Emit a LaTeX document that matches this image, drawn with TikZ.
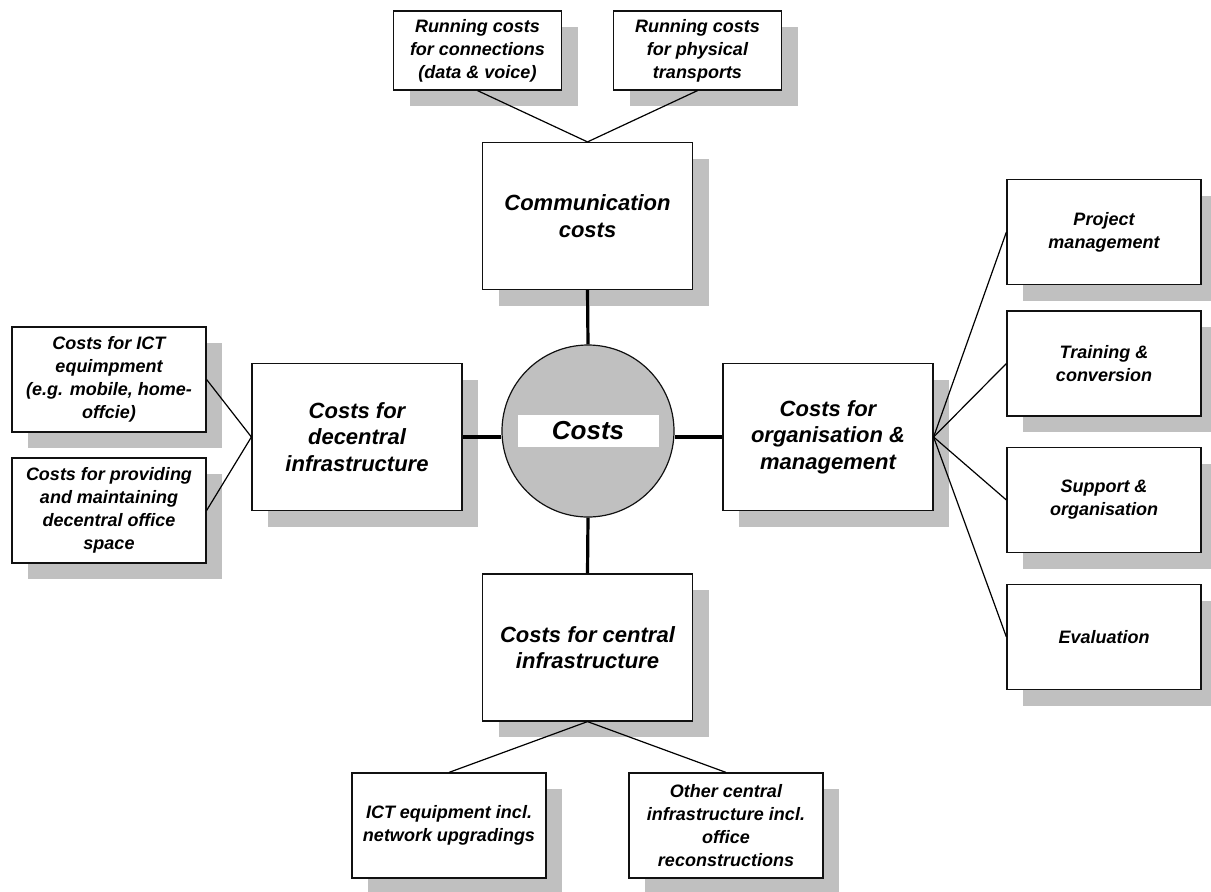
\documentclass[tikz,border=0pt]{standalone}
\usepackage{fontspec}
\setmainfont{Liberation Sans}
\usetikzlibrary{
  positioning,
  shadows,
}
\definecolor{border}{HTML}{111111}
\definecolor{shadowGray}{HTML}{C0C0C0}
\definecolor{hubFill}{HTML}{C0C0C0}
\tikzset{
  mainbox/.style={
    rectangle, draw=border, fill=white, line width=0.6pt,
    minimum width=105pt, minimum height=73.5pt, align=center, inner sep=2pt,
    font=\fontsize{11}{13.3}\selectfont\bfseries\itshape,
    drop shadow={shadow xshift=8pt, shadow yshift=-8pt, fill=shadowGray, opacity=1},
  },
  subbox/.style={
    mainbox, minimum width=97pt, minimum height=52.5pt,
    font=\fontsize{9}{11.5}\selectfont\bfseries\itshape,
  },
  topbox/.style={subbox, minimum width=84pt, minimum height=39.5pt},
  hub/.style={
    circle, draw=border, fill=hubFill, line width=0.6pt,
    minimum size=86pt, inner sep=0pt,
  },
  hublabel/.style={
    rectangle, fill=white, minimum width=70.5pt, minimum height=16pt,
    inner sep=0pt, font=\fontsize{13}{15}\selectfont\bfseries\itshape,
  },
  link/.style={line width=0.6pt, black},
  spoke/.style={line width=1.6pt, black},
}

\begin{document}
\begin{tikzpicture}[x=0.5pt, y=-0.5pt]
  \useasboundingbox (0,0) rectangle (1211,891);

  % Centre
  \node[hub] (hub) at (588, 431) {};
  \node[hublabel] (costs) at (hub.center) {Costs};

  % Main boxes
  \node[mainbox] (comm) at (587.5, 216) {Communication\\costs};
  \node[mainbox] (central) at (587.5, 647.5) {Costs for central\\infrastructure};
  \node[mainbox] (decentral) at (357, 437) {Costs for\\decentral\\infrastructure};
  \node[mainbox] (orga) at (828, 437) {Costs for\\organisation \&\\management};

  % Top row
  \node[topbox] (runconn) at (477.5, 50.5) {Running costs\\for connections\\(data \& voice)};
  \node[topbox] (runtrans) at (697.5, 50.5) {Running costs\\for physical\\transports};

  % Left column
  \node[subbox] (ictdev) at (109, 379.5) {Costs for ICT\\equimpment\\(e.g. mobile, home-\\offcie)};
  \node[subbox] (office) at (109, 510.5) {Costs for providing\\and maintaining\\decentral office\\space};

  % Right column
  \node[subbox] (project) at (1104, 232) {Project\\management};
  \node[subbox] (training) at (1104, 363.5) {Training \&\\conversion};
  \node[subbox] (support) at (1104, 500) {Support \&\\organisation};
  \node[subbox] (evaluation) at (1104, 637) {Evaluation};

  % Bottom row
  \node[subbox] (ictnet) at (449, 825.5) {ICT equipment incl.\\network upgradings};
  \node[subbox] (othercentral) at (726, 825.5) {Other central\\infrastructure incl.\\office\\reconstructions};

  % Spokes
  \draw[spoke] (comm.south) -- (hub.north);
  \draw[spoke] (hub.south) -- (central.north);
  \draw[spoke] (decentral.east) -- (decentral.east -| hub.west);
  \draw[spoke] (orga.west) -- (orga.west -| hub.east);

  % Links
  \draw[link] (runconn.south) -- (comm.north);
  \draw[link] (runtrans.south) -- (comm.north);
  \draw[link] (ictdev.east) -- (decentral.west);
  \draw[link] (office.east) -- (decentral.west);
  \draw[link] (orga.east) -- (project.west);
  \draw[link] (orga.east) -- (training.west);
  \draw[link] (orga.east) -- (support.west);
  \draw[link] (orga.east) -- (evaluation.west);
  \draw[link] (central.south) -- (ictnet.north);
  \draw[link] (central.south) -- (othercentral.north);

\end{tikzpicture}
\end{document}
